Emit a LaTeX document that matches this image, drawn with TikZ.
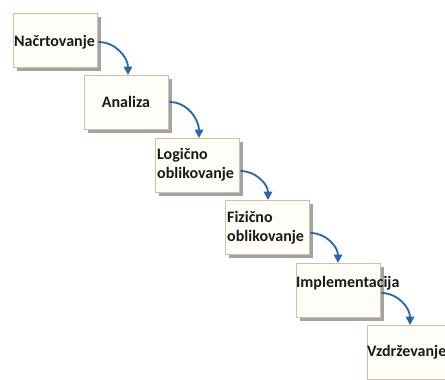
\documentclass[tikz,border=0pt]{standalone}
\usepackage{fontspec}
\setmainfont{Carlito}
\usetikzlibrary{arrows.meta,shadows}
\definecolor{stepfill}{RGB}{255,253,247}
\definecolor{stepborder}{RGB}{210,192,160}
\definecolor{flowblue}{RGB}{36,102,176}
\definecolor{steptext}{RGB}{25,25,25}
\begin{document}
\begin{tikzpicture}[x=1pt,y=-1pt,
  stepbox/.style={draw=stepborder, line width=1.4pt, fill=stepfill,
    minimum width=84pt, minimum height=54pt, inner sep=0pt, anchor=north west,
    drop shadow={shadow xshift=3pt, shadow yshift=-3pt, fill=black!60, opacity=0.6}},
  steplabel/.style={font=\fontsize{16}{19}\selectfont\bfseries, text=steptext,
    inner sep=1pt, align=left},
  flow/.style={draw=flowblue, line width=1.8pt,
    -{Triangle[width=8.5pt,length=8.5pt]}}]
  \clip (0,0) rectangle (445,380);
  \fill[white] (0,0) rectangle (445,380);

  % the six phases, stepping down to the right
  \node[stepbox] (b1) at (13,13) {};
  \node[stepbox] (b2) at (84,75) {};
  \node[stepbox] (b3) at (155,138) {};
  \node[stepbox] (b4) at (225,200) {};
  \node[stepbox] (b5) at (296,263) {};
  \node[stepbox] (b6) at (367,325) {};

  % phase names
  \node[steplabel, anchor=west] (t1) at (13,42) {Načrtovanje};
  \node[steplabel] (t2) at (126,102) {Analiza};
  \node[steplabel, anchor=west] (t3) at (156,165) {Logično\\oblikovanje};
  \node[steplabel, anchor=west] (t4) at (226,228) {Fizično\\oblikovanje};
  \node[steplabel, anchor=west] (t5) at (295,283) {Implementacija};
  \node[steplabel, anchor=west] (t6) at (366,352) {Vzdrževanje};

  % curved arrows from each phase to the next
  \draw[flow] ([yshift=-29pt]b1.north east) to[out=0,in=90] ([xshift=44pt]b2.north west);
  \draw[flow] ([yshift=-27pt]b2.north east) to[out=0,in=90] ([xshift=44pt]b3.north west);
  \draw[flow] ([yshift=-33pt]b3.north east) to[out=0,in=90] ([xshift=43pt]b4.north west);
  \draw[flow] ([yshift=-33pt]b4.north east) to[out=0,in=90] ([xshift=42pt]b5.north west);
  \draw[flow] ([yshift=-30pt]b5.north east) to[out=0,in=90] ([xshift=43pt]b6.north west);
\end{tikzpicture}
\end{document}
